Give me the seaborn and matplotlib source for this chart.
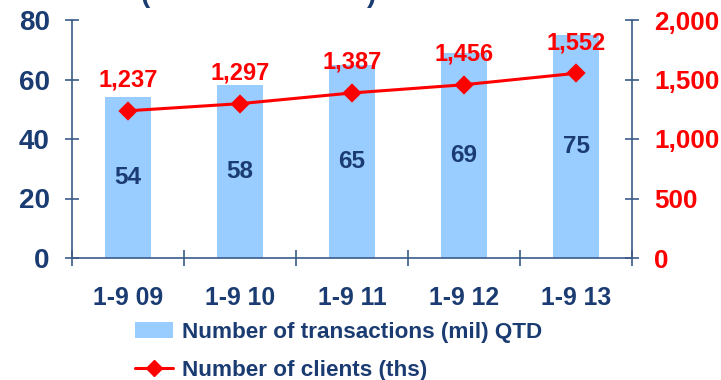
import matplotlib
matplotlib.use("Agg")
import matplotlib.pyplot as plt
import seaborn as sns
import pandas as pd
from matplotlib.patches import Patch
from matplotlib.lines import Line2D
from matplotlib.ticker import FuncFormatter

# Data
periods = ["1-9 09", "1-9 10", "1-9 11", "1-9 12", "1-9 13"]
transactions = [54, 58, 65, 69, 75]          # mil, QTD
clients = [1237, 1297, 1387, 1456, 1552]     # ths
left_ticks = [0, 20, 40, 60, 80]
right_ticks = [0, 500, 1000, 1500, 2000]
legend_labels = ["Number of transactions (mil) QTD", "Number of clients (ths)"]

NAVY = "#1B3C72"
AXIS = "#3B5B8A"
BAR = "#99CCFF"
RED = "#FF0000"

sns.set_theme(style="white")
plt.rcParams["font.family"] = ["Liberation Sans", "DejaVu Sans"]
plt.rcParams["font.weight"] = "bold"

df = pd.DataFrame({"period": periods, "transactions": transactions, "clients": clients})

W, H = 721, 380
fig = plt.figure(figsize=(W / 100, H / 100), dpi=100)
ax = fig.add_axes([72 / W, 1 - 258 / H, 560 / W, 238 / H])

# Bars: transactions on the left axis
sns.barplot(data=df, x="period", y="transactions", color=BAR, saturation=1,
            width=0.41, linewidth=0, ax=ax)
for bar, v in zip(ax.patches, transactions):
    ax.text(bar.get_x() + bar.get_width() / 2, v / 2, f"{v}", ha="center",
            va="center", color=NAVY, fontsize=17.5, fontweight="bold")

# Line: clients on the right axis
ax2 = ax.twinx()
sns.pointplot(data=df, x="period", y="clients", color=RED, markers="D",
              markersize=8, linewidth=2.2, ax=ax2)
for i, v in enumerate(clients):
    ax2.annotate(f"{v:,}", (i, v), xytext=(0, 22), textcoords="offset points",
                 ha="center", va="center", color=RED, fontsize=17,
                 fontweight="bold")

ax.set_ylim(left_ticks[0], left_ticks[-1])
ax2.set_ylim(right_ticks[0], right_ticks[-1])
ax.set_xlim(-0.5, len(periods) - 0.5)

# Spines
for a in (ax, ax2):
    for s in a.spines.values():
        s.set_visible(False)
ax.spines["left"].set_visible(True)
ax.spines["bottom"].set_visible(True)
ax2.spines["right"].set_visible(True)
for s in (ax.spines["left"], ax.spines["bottom"], ax2.spines["right"]):
    s.set_color(AXIS)
    s.set_linewidth(1.2)

# Left y axis
ax.set_yticks(left_ticks)
ax.tick_params(axis="y", direction="inout", length=10, width=1.2, color=AXIS,
               labelcolor=NAVY, labelsize=20, pad=11, left=True)

# Right y axis
ax2.set_yticks(right_ticks)
ax2.yaxis.set_major_formatter(FuncFormatter(lambda v, p: f"{int(v):,}"))
ax2.tick_params(axis="y", direction="inout", length=10, width=1.2, color=AXIS,
                labelcolor=RED, labelsize=18.7, pad=11, right=True)

# X axis: separators between categories, labels centred under bars
ax.set_xticks([i - 0.5 for i in range(len(periods) + 1)], [""] * (len(periods) + 1))
ax.set_xticks(range(len(periods)), periods, minor=True)
ax.tick_params(axis="x", which="major", direction="inout", length=12, width=1.2,
               color=AXIS, bottom=True)
ax.tick_params(axis="x", which="minor", length=0, pad=20, labelsize=17.8,
               labelcolor=NAVY, bottom=True)
for lbl in ax.get_xticklabels(minor=True) + ax.get_yticklabels() + ax2.get_yticklabels():
    lbl.set_fontweight("bold")

ax.set_xlabel("")
ax.set_ylabel("")
ax2.set_ylabel("")

# Title brackets peeking in at the top edge
fig.text(145 / W, 1 - 2 / H, "(", color=NAVY, fontsize=20, fontweight="bold",
         ha="center", va="baseline")
fig.text(372 / W, 1 - 2 / H, ")", color=NAVY, fontsize=20, fontweight="bold",
         ha="center", va="baseline")

# Legend
handles = [
    Patch(facecolor=BAR, edgecolor="none"),
    Line2D([], [], color=RED, lw=2.2, marker="D", markersize=8),
]
fig.legend(handles, legend_labels, loc="upper left",
           bbox_to_anchor=(135 / W, 1 - 322 / H), frameon=False,
           labelcolor=NAVY, prop={"weight": "bold", "size": 16.2},
           handlelength=1.7, handleheight=0.72, handletextpad=0.4,
           labelspacing=0.75, borderpad=0, borderaxespad=0)

fig.savefig("out.png", dpi=100)
